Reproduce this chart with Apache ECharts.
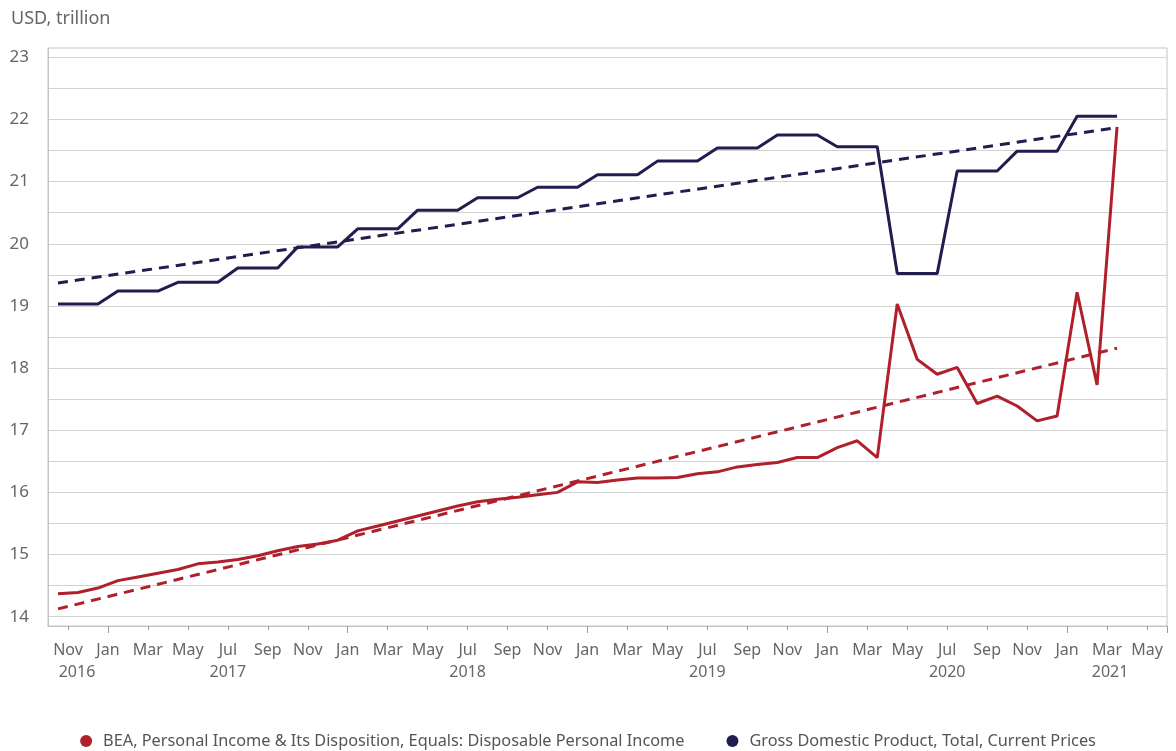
<!DOCTYPE html>
<html>
<head>
<meta charset="utf-8">
<script src="https://cdn.jsdelivr.net/npm/echarts@6/dist/echarts.min.js"></script>
<style>
html,body{margin:0;padding:0;background:#fff;}
#chart{width:1176px;height:751px;}
</style>
</head>
<body>
<div id="chart"></div>
<script>
// Months shown on the axis: Oct 2016 .. May 2021
var monthNames = ['Jan','Feb','Mar','Apr','May','Jun','Jul','Aug','Sep','Oct','Nov','Dec'];
var categories = [];
(function(){
  var y = 2016, m = 9; // Oct 2016
  for (var k = 0; k < 56; k++) {
    categories.push(y + '-' + (m + 1 < 10 ? '0' : '') + (m + 1));
    m++; if (m === 12) { m = 0; y++; }
  }
})();

// Year labels (placed under the month label)
var yearLabels = { '2016-11': '2016', '2017-07': '2017', '2018-07': '2018', '2019-07': '2019', '2020-07': '2020', '2021-03': '2021' };

// Disposable personal income, USD trillion, Oct 2016 .. Mar 2021
var incomeValues = [14.37,14.39,14.46,14.58,14.64,14.70,14.76,14.85,14.88,14.92,14.98,15.06,
  15.13,15.17,15.23,15.38,15.46,15.54,15.62,15.70,15.78,15.85,15.89,15.92,
  15.96,16.00,16.17,16.16,16.20,16.23,16.23,16.24,16.30,16.33,16.41,16.45,
  16.48,16.56,16.56,16.72,16.83,16.56,19.03,18.14,17.90,18.01,17.43,17.55,
  17.39,17.15,17.23,19.22,17.73,21.88];

// GDP, current prices, USD trillion (quarterly value held for each month), Oct 2016 .. Mar 2021
var gdpValues = [19.03,19.03,19.03, 19.24,19.24,19.24, 19.38,19.38,19.38, 19.61,19.61,19.61,
  19.95,19.95,19.95, 20.24,20.24,20.24, 20.54,20.54,20.54, 20.74,20.74,20.74,
  20.91,20.91,20.91, 21.11,21.11,21.11, 21.33,21.33,21.33, 21.54,21.54,21.54,
  21.75,21.75,21.75, 21.56,21.56,21.56, 19.52,19.52,19.52, 21.17,21.17,21.17,
  21.49,21.49,21.49, 22.05,22.05,22.05];

// Trend lines: start (Oct 2016) and end (Mar 2021) values
var incomeTrendEnds = [14.125, 18.32];
var gdpTrendEnds = [19.37, 21.87];

var yGridValues = [14,14.5,15,15.5,16,16.5,17,17.5,18,18.5,19,19.5,20,20.5,21,21.5,22,22.5,23];
var yLabelValues = [14,15,16,17,18,19,20,21,22,23];

var incomeName = 'BEA, Personal Income & Its Disposition, Equals: Disposable Personal Income';
var gdpName = 'Gross Domestic Product, Total, Current Prices';

function trend(ends, n) {
  var arr = [];
  for (var k = 0; k < n; k++) arr.push(null);
  arr[0] = ends[0];
  arr[n - 1] = ends[1];
  return arr;
}

var RED = '#B0202B';
var NAVY = '#201D4F';
var FONT = 'Noto Sans';
var TXT = '#666';

var chart = echarts.init(document.getElementById('chart'), null, {renderer: 'canvas'});
chart.setOption({
  animation: false,
  textStyle: { fontFamily: FONT },
  title: {
    text: 'USD, trillion', left: 6, top: 5,
    textStyle: { fontFamily: FONT, fontSize: 18, fontWeight: 'normal', color: TXT }
  },
  legend: {
    data: [incomeName, gdpName],
    top: 728, left: 'center',
    icon: 'circle', itemWidth: 12, itemHeight: 12, itemGap: 42,
    textStyle: { fontFamily: FONT, fontSize: 16.3, color: '#555', padding: [0, 0, 0, 6] }
  },
  grid: {
    left: 48, right: 9, top: 48, bottom: 125,
    show: true, borderColor: '#c4c4c4', borderWidth: 1
  },
  xAxis: [{
    type: 'category', data: categories, boundaryGap: true,
    axisLine: { show: true, lineStyle: { color: '#c4c4c4', width: 1 } },
    axisTick: { show: true, interval: function (i) { return i % 2 === 1; }, length: 4, lineStyle: { color: '#999' } },
    splitLine: { show: false },
    axisLabel: {
      interval: function (i) { return i % 2 === 1; },
      hideOverlap: false,
      showMaxLabel: true,
      showMinLabel: true,
      margin: 13,
      padding: [0, 20, 0, 0],
      formatter: function (v) {
        var m = parseInt(v.slice(5), 10) - 1;
        var s = '{m|' + monthNames[m] + '}';
        var yl = yearLabels[v];
        if (yl) {
          if (v === '2016-11') s += '\n{y0|' + yl + '}';
          else if (v === '2021-03') s += '\n{y1|' + yl + '}';
          else s += '\n{y|' + yl + '}';
        }
        return s;
      },
      rich: {
        m: { fontFamily: FONT, fontSize: 16, color: TXT, lineHeight: 22 },
        y: { fontFamily: FONT, fontSize: 16, color: TXT, lineHeight: 22 },
        y0: { fontFamily: FONT, fontSize: 16, color: TXT, lineHeight: 22, padding: [0, 0, 0, 18] },
        y1: { fontFamily: FONT, fontSize: 16, color: TXT, lineHeight: 22, padding: [0, 0, 0, 6] }
      }
    }
  }, {
    type: 'category', data: categories, boundaryGap: true, position: 'bottom',
    axisLine: { show: false },
    axisTick: { show: true, interval: function (i) { return i % 12 === 3; }, length: 7, lineStyle: { color: '#999' } },
    axisLabel: { show: false },
    splitLine: { show: false }
  }],
  yAxis: {
    type: 'value', min: 13.85, max: 23.15,
    axisLine: { show: true, lineStyle: { color: '#c4c4c4' } },
    axisTick: { show: false, customValues: yGridValues },
    splitLine: { show: true, lineStyle: { color: '#d2d2d2', width: 1 } },
    axisLabel: {
      customValues: yLabelValues, margin: 19,
      fontFamily: FONT, fontSize: 17, color: TXT
    }
  },
  series: [{
    name: incomeName, type: 'line', data: incomeValues, xAxisIndex: 0,
    symbol: 'none', color: RED, lineStyle: { width: 3, color: RED }, z: 3
  }, {
    name: gdpName, type: 'line', data: gdpValues, xAxisIndex: 0,
    symbol: 'none', color: NAVY, lineStyle: { width: 3, color: NAVY }, z: 3
  }, {
    name: 'income trend', type: 'line', data: trend(incomeTrendEnds, incomeValues.length), connectNulls: true,
    symbol: 'none', color: RED, lineStyle: { width: 3, color: RED, type: [10, 7] }, z: 2
  }, {
    name: 'gdp trend', type: 'line', data: trend(gdpTrendEnds, gdpValues.length), connectNulls: true,
    symbol: 'none', color: NAVY, lineStyle: { width: 3, color: NAVY, type: [10, 7] }, z: 2
  }]
});
</script>
</body>
</html>
